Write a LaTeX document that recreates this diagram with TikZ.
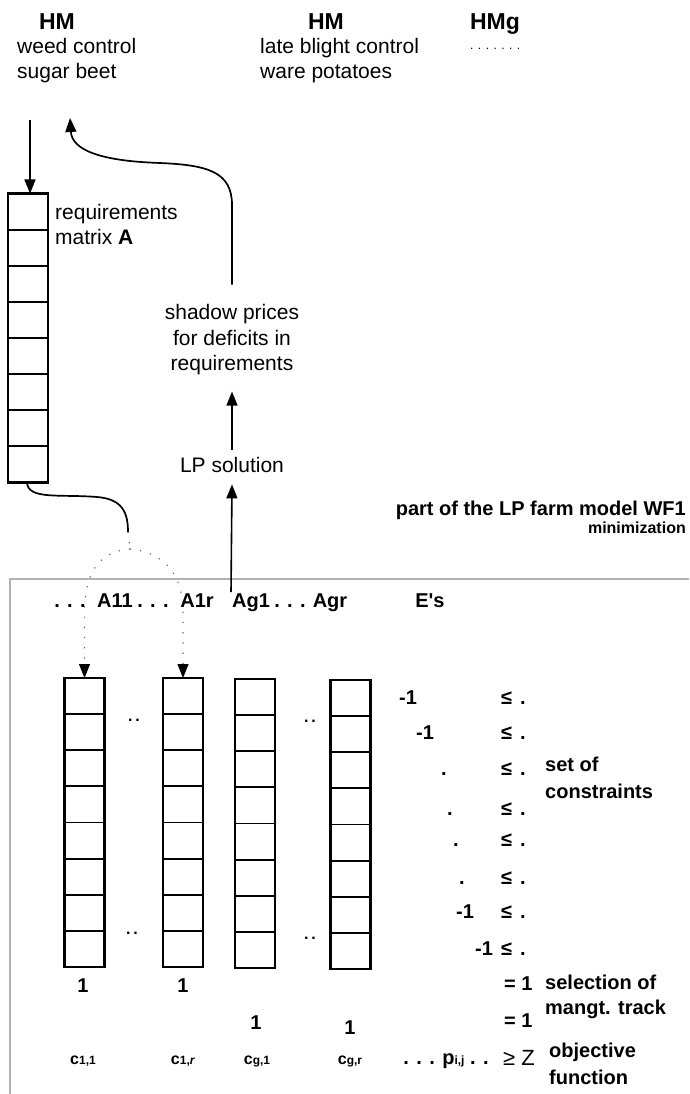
\documentclass[tikz,border=0pt]{standalone}
\usepackage{fontspec}
\setmainfont{Liberation Sans}
\usetikzlibrary{arrows.meta,calc}
\begin{document}
\begin{tikzpicture}[x=1pt,y=-1pt,
  txt/.style={inner sep=0pt, font=\fontsize{21}{25}\selectfont},
  btxt/.style={inner sep=0pt, font=\fontsize{20}{24}\selectfont\bfseries},
  hmtxt/.style={inner sep=0pt, font=\fontsize{23}{26}\selectfont\bfseries},
  clab/.style={inner sep=0pt, font=\fontsize{16}{16}\selectfont\bfseries},
  smalldots/.style={inner sep=0pt, font=\fontsize{16}{16}\selectfont\bfseries},
  matcol/.style={draw, line width=2.2pt, minimum width=40pt, minimum height=289pt, inner sep=0pt, outer sep=0pt},
  cellline/.style={line width=1.9pt},
  tipT/.tip={Triangle[length=14pt,width=11pt,color=black]},
  arr/.style={line width=1.6pt, -tipT},
  conn/.style={line width=1.7pt},
  dotl/.style={line width=1.1pt, gray!75!black, dash pattern=on 1.2pt off 9pt},
  framel/.style={line width=1.6pt, gray!60}]
\useasboundingbox (0,0) rectangle (689,1094);

% top labels
\node[hmtxt, anchor=base] (hm1) at (57,30) {HM};
\node[txt, anchor=base west] (wc1) at (17,54) {weed control};
\node[txt, anchor=base west] (wc2) at (17,79) {sugar beet};
\node[hmtxt, anchor=base] (hm2) at (326,30) {HM};
\node[txt, anchor=base west] (lb1) at (260,54) {late blight control};
\node[txt, anchor=base west] (lb2) at (260,79) {ware potatoes};
\node[hmtxt, anchor=base] (hmg) at (495,30) {HMg};
\node[inner sep=0pt, font=\fontsize{12}{12}\selectfont, anchor=base west] (hmgdots) at (470,50) {. . . . . . .};

% requirements matrix
\node[matcol] (matA) at (28,338) {};
\node[txt, anchor=base west] (reqA1) at (55,219) {requirements};
\node[txt, anchor=base west] (reqA2) at (55,244) {matrix \textbf{A}};

% shadow prices and LP solution
\node[txt, anchor=base] (sp1) at (232,319) {shadow prices};
\node[txt, anchor=base] (sp2) at (232,345) {for deficits in};
\node[txt, anchor=base] (sp3) at (232,370) {requirements};
\node[txt, anchor=base] (lp) at (232,472) {LP solution};

\node[btxt, anchor=base east] (part) at (686,515) {part of the LP farm model WF1};
\node[inner sep=0pt, font=\fontsize{16}{16}\selectfont\bfseries, anchor=base east] (mini) at (686,533) {minimization};

% frame of the LP model
\draw[framel] (689,579) -- (10,579) -- (10,1094);

% column headers
\node[btxt, anchor=base] (h0) at (70,607) {. . .};
\node[btxt, anchor=base] (hA11) at (115,607) {A11};
\node[btxt, anchor=base] (h1) at (153,607) {. . .};
\node[btxt, anchor=base] (hA1r) at (197,607) {A1r};
\node[btxt, anchor=base] (hAg1) at (251,607) {Ag1};
\node[btxt, anchor=base] (h2) at (290,607) {. . .};
\node[btxt, anchor=base] (hAgr) at (330,607) {Agr};
\node[btxt, anchor=base] (hE) at (430,607) {E\textquotesingle s};

% columns
\node[matcol] (col1) at (84.5,822.5) {};
\node[matcol] (col2) at (183,822.5) {};
\node[matcol] (col3) at (255,823.5) {};
\node[matcol] (col4) at (350.5,824.5) {};
\foreach \c in {matA,col1,col2,col3,col4}
  \foreach \i in {1,...,7}
    \draw[cellline] ($(\c.north west)!\i/8!(\c.south west)$) -- ($(\c.north east)!\i/8!(\c.south east)$);

\node[smalldots, anchor=base] (dd1) at (134,721) {.\,.};
\node[smalldots, anchor=base] (dd2) at (132,934) {.\,.};
\node[smalldots, anchor=base] (dd3) at (310,722) {.\,.};
\node[smalldots, anchor=base] (dd4) at (310,939) {.\,.};

% constraint rows
\foreach \y [count=\i] in {697,732,768,808,839,877,911,948}
  \node[btxt, anchor=base west] (le\i) at (501,\y+7) {≤\hspace{8pt}.};
\node[btxt, anchor=base] (lt1) at (408,704) {-1};
\node[btxt, anchor=base] (lt2) at (425,739) {-1};
\node[btxt, anchor=base] (lt3) at (444,775) {.};
\node[btxt, anchor=base] (lt4) at (450,815) {.};
\node[btxt, anchor=base] (lt5) at (456,846) {.};
\node[btxt, anchor=base] (lt6) at (462,884) {.};
\node[btxt, anchor=base] (lt7) at (465,918) {-1};
\node[btxt, anchor=base] (lt8) at (484,955) {-1};
\node[btxt, anchor=base west] (set1) at (545,771) {set of};
\node[btxt, anchor=base west] (set2) at (545,798) {constraints};

% selection rows
\node[btxt, anchor=base] (one1) at (83,992) {1};
\node[btxt, anchor=base] (one2) at (183,992) {1};
\node[btxt, anchor=base] (one3) at (256,1029) {1};
\node[btxt, anchor=base] (one4) at (350,1034) {1};
\node[btxt, anchor=base west] (eq1) at (504,990) {= 1};
\node[btxt, anchor=base west] (eq2) at (504,1027) {= 1};
\node[btxt, anchor=base west] (sel1) at (545,989) {selection of};
\node[btxt, anchor=base west] (sel2) at (545,1014) {mangt. track};

% objective row
\node[clab, anchor=base] (c11) at (83,1064) {c{\fontsize{12}{12}\selectfont 1,1}};
\node[clab, anchor=base] (c1r) at (183,1064) {c{\fontsize{12}{12}\selectfont 1,\textit{r}}};
\node[clab, anchor=base] (cg1) at (257,1064) {c{\fontsize{12}{12}\selectfont g,1}};
\node[clab, anchor=base] (cgr) at (350,1064) {c{\fontsize{12}{12}\selectfont g,r}};
\node[btxt, anchor=base] (pij) at (446,1064) {. . . p{\fontsize{12}{12}\selectfont i,j} . .};
\node[inner sep=0pt, font=\fontsize{22}{22}\selectfont, anchor=base west] (geZ) at (503,1065) {≥ Z};
\node[btxt, anchor=base west] (obj1) at (549,1057) {objective};
\node[btxt, anchor=base west] (obj2) at (549,1084) {function};

% connectors
\coordinate (hmin) at (30,120);
\draw[arr] (hmin) -- ([xshift=2pt]matA.north);
\coordinate (hmret) at (70,118);
\draw[conn, -tipT] ([yshift=19pt]sp1.north) -- (232,205) .. controls (232,172) and (208,165) .. (160,163) .. controls (100,161) and (72,150) .. (hmret);
\draw[arr] ([yshift=7pt]lp.north) -- ([yshift=-17pt]sp3.south);
\coordinate (lpstart) at (231,592);
\draw[arr] (lpstart) -- ([yshift=-12pt]lp.south);
\coordinate (dstart) at (128,532);
\coordinate (split) at (130,549);
\draw[conn] ([xshift=-1pt]matA.south) .. controls (28,500) and (60,494) .. (97,497) .. controls (122,499) and (128,512) .. (dstart);
\draw[dotl] (dstart) -- (split);
\draw[dotl, -tipT] (split) .. controls (100,552) and (85,570) .. (84.5,612) -- (col1.north);
\draw[dotl, -tipT] (split) .. controls (160,552) and (183,570) .. (183,612) -- (col2.north);
\end{tikzpicture}
\end{document}
